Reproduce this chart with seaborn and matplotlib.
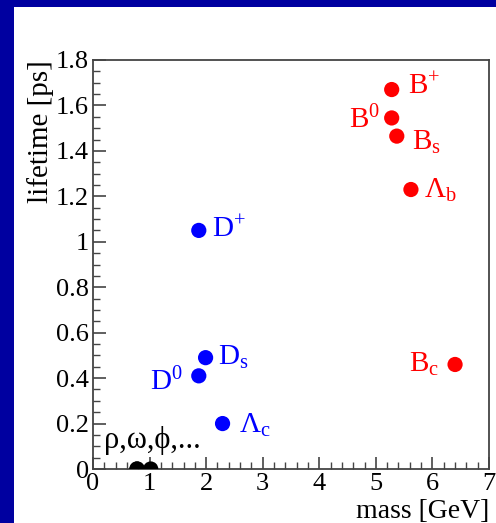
import matplotlib
matplotlib.use("Agg")
import matplotlib.pyplot as plt
import seaborn as sns
import pandas as pd
from matplotlib.ticker import MultipleLocator, FuncFormatter
from matplotlib.patches import Rectangle

# ---- data ----
names = ["B$^{+}$", "B$^{0}$", "B$_\\mathrm{s}$", "Λ$_\\mathrm{b}$", "B$_\\mathrm{c}$",
         "D$^{+}$", "D$_\\mathrm{s}$", "D$^{0}$", "Λ$_\\mathrm{c}$",
         "ρ", "ω", "φ"]
mass = [5.28, 5.28, 5.37, 5.62, 6.40, 1.87, 1.99, 1.87, 2.29, 0.775, 0.783, 1.02]
lifetime = [1.67, 1.545, 1.465, 1.23, 0.46, 1.05, 0.49, 0.41, 0.20, 0.0, 0.0, 0.0]
group = ["b", "b", "b", "b", "b", "c", "c", "c", "c", "light", "light", "light"]
light_label = "ρ,ω,ϕ,..."

df = pd.DataFrame({"name": names, "mass": mass, "lifetime": lifetime, "group": group})

sns.set_theme(style="ticks")
plt.rcParams["font.family"] = ["Liberation Serif", "DejaVu Serif"]
plt.rcParams["mathtext.fontset"] = "custom"
plt.rcParams["mathtext.rm"] = "Liberation Serif"
plt.rcParams["mathtext.it"] = "Liberation Serif:italic"
plt.rcParams["mathtext.bf"] = "Liberation Serif:bold"

fig = plt.figure(figsize=(4.96, 5.23), dpi=100, facecolor="#0000A0")
fig.patches.append(Rectangle((14 / 496, 0), 1 - 14 / 496, 1 - 7 / 523,
                             transform=fig.transFigure, facecolor="white",
                             edgecolor="none", zorder=-10))
ax = fig.add_axes([93 / 496, (523 - 469) / 523, (489 - 93) / 496, (469 - 60) / 523])
ax.set_zorder(5)
ax.set_facecolor("white")

palette = {"b": "#FF0000", "c": "#0000FF", "light": "#000000"}
sns.scatterplot(data=df, x="mass", y="lifetime", hue="group", palette=palette,
                s=120, edgecolor="none", legend=False, ax=ax, zorder=3)

ax.set_xlim(0, 7)
ax.set_ylim(0, 1.8)

# annotations: offset (pixels), ha
offsets = {
    0: ((16, -5), "left"),
    1: ((-12, -10), "right"),
    2: ((15, -14), "left"),
    3: ((13, -8), "left"),
    4: ((-16, -7), "right"),
    5: ((13, -7), "left"),
    6: ((12, -7), "left"),
    7: ((-16, -14), "right"),
    8: ((16, -9), "left"),
}
for i, ((dx, dy), ha) in offsets.items():
    ax.annotate(df["name"][i], (df["mass"][i], df["lifetime"][i]),
                xytext=(dx, dy), textcoords="offset pixels", ha=ha, va="baseline",
                fontsize=21, color=palette[df["group"][i]])
ax.annotate(light_label, (0.2, 0.0), xytext=(0, 21), textcoords="offset pixels",
            ha="left", va="baseline", fontsize=22, color="black")

ax.xaxis.set_major_locator(MultipleLocator(1))
ax.xaxis.set_minor_locator(MultipleLocator(0.2))
ax.yaxis.set_major_locator(MultipleLocator(0.2))
ax.yaxis.set_minor_locator(MultipleLocator(0.05))
fmt = FuncFormatter(lambda v, p: f"{v:.10g}" if abs(v) > 1e-9 else "0")
ax.xaxis.set_major_formatter(fmt)
ax.yaxis.set_major_formatter(fmt)
ax.tick_params(which="both", direction="in", color="#444444", labelsize=19,
               labelcolor="black", top=False, right=False)
ax.tick_params(which="major", length=9, width=1.2, pad=3)
ax.tick_params(which="minor", length=5, width=1.0)
for sp in ax.spines.values():
    sp.set_visible(True)
    sp.set_color("#444444")
    sp.set_linewidth(1.3)

ax.set_xlabel("mass [GeV]", loc="right", fontsize=20, color="black")
ax.set_ylabel("lifetime [ps]", loc="top", fontsize=21, color="black")
ax.xaxis.set_label_coords(1.0, -0.074)
ax.yaxis.set_label_coords(-0.098, 1.0)

fig.savefig("out.png", dpi=100, facecolor=fig.get_facecolor())
